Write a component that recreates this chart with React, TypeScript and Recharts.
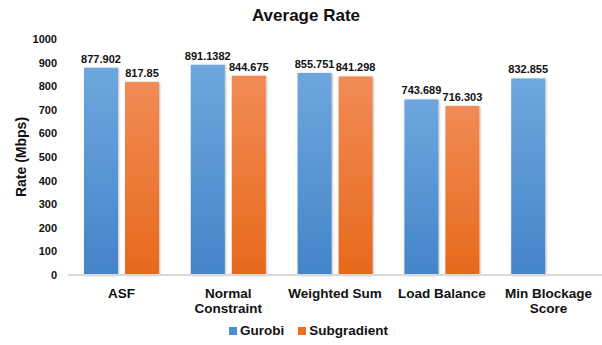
import React from "react";
import { BarChart, Bar, XAxis, YAxis, LabelList } from "recharts";

const categories = ["ASF", "Normal Constraint", "Weighted Sum", "Load Balance", "Min Blockage Score"];
const tickLines: Record<string, string[]> = {
  "ASF": ["ASF"],
  "Normal Constraint": ["Normal", "Constraint"],
  "Weighted Sum": ["Weighted Sum"],
  "Load Balance": ["Load Balance"],
  "Min Blockage Score": ["Min Blockage", "Score"],
};
const gurobi = [877.902, 891.1382, 855.751, 743.689, 832.855];
const subgradient: (number | null)[] = [817.85, 844.675, 841.298, 716.303, null];
const yTicks = [0, 100, 200, 300, 400, 500, 600, 700, 800, 900, 1000];

const data = categories.map((c, i) => ({ name: c, gurobi: gurobi[i], subgradient: subgradient[i] }));

const FONT = "'Liberation Sans', Arial, sans-serif";

const CatTick = (props: any) => {
  const { x, y, payload } = props;
  const lines = tickLines[payload.value] || [payload.value];
  return (
    <g>
      {lines.map((l, i) => (
        <text key={i} x={x} y={y + 22.5 + i * 15} textAnchor="middle" fontFamily={FONT} fontSize={13.5} fontWeight="bold" fill="#111">
          {l}
        </text>
      ))}
    </g>
  );
};

const YLabel = (props: any) => {
  return (
    <text x={21} y={157} transform="rotate(-90 21 157)" textAnchor="middle" dominantBaseline="central" fontFamily={FONT} fontSize={14} fontWeight="bold" fill="#111">
      Rate (Mbps)
    </text>
  );
};

export default function App() {
  return (
    <div style={{ position: "absolute", left: 0, top: 0, width: 602, height: 345, background: "#fff", fontFamily: FONT }}>
      <div style={{ position: "absolute", left: 0, top: 5, width: 612, textAlign: "center", fontSize: 17, fontWeight: "bold", color: "#111", lineHeight: "22px" }}>
        Average Rate
      </div>
      <BarChart width={602} height={345} data={data} margin={{ top: 39, right: 0, left: 0, bottom: 0 }} barCategoryGap={16} barGap={7}>
        <defs>
          <linearGradient id="gBlue" x1="0" y1="0" x2="0" y2="1">
            <stop offset="0%" stopColor="#6ea7de" />
            <stop offset="100%" stopColor="#4484c8" />
          </linearGradient>
          <linearGradient id="gOrange" x1="0" y1="0" x2="0" y2="1">
            <stop offset="0%" stopColor="#f18b56" />
            <stop offset="100%" stopColor="#e7691b" />
          </linearGradient>
          <filter id="shadow" x="-20%" y="-5%" width="140%" height="110%">
            <feDropShadow dx="0.8" dy="0.5" stdDeviation="0.9" floodColor="#000" floodOpacity="0.3" />
          </filter>
        </defs>
        <XAxis dataKey="name" tickLine={false} tickSize={0} tickMargin={0} height={70} stroke="#d9d9d9" strokeWidth={2} tick={<CatTick />} interval={0} />
        <YAxis width={68} domain={[0, 1000]} ticks={yTicks} axisLine={false} tickLine={false} tickSize={0} tickMargin={11}
          tick={{ fontFamily: FONT, fontSize: 11, fontWeight: "bold", fill: "#111" }} label={<YLabel />} />
        <Bar dataKey="gurobi" name="Gurobi" fill="url(#gBlue)" isAnimationActive={false} filter="url(#shadow)">
          <LabelList dataKey="gurobi" position="top" offset={5} fontFamily={FONT} fontSize={11} fontWeight="bold" fill="#111" />
        </Bar>
        <Bar dataKey="subgradient" name="Subgradient" fill="url(#gOrange)" isAnimationActive={false} filter="url(#shadow)">
          <LabelList dataKey="subgradient" position="top" offset={5} fontFamily={FONT} fontSize={11} fontWeight="bold" fill="#111" />
        </Bar>
      </BarChart>
      <div style={{ position: "absolute", left: 229, top: 322, display: "flex", alignItems: "center", fontSize: 13.5, fontWeight: "bold", color: "#111", lineHeight: "18px" }}>
        <span style={{ display: "inline-block", width: 8, height: 8, background: "#4a8dd0", marginRight: 3 }} />
        <span>Gurobi</span>
        <span style={{ display: "inline-block", width: 8, height: 8, background: "#ec7024", marginLeft: 14, marginRight: 3 }} />
        <span>Subgradient</span>
      </div>
    </div>
  );
}
